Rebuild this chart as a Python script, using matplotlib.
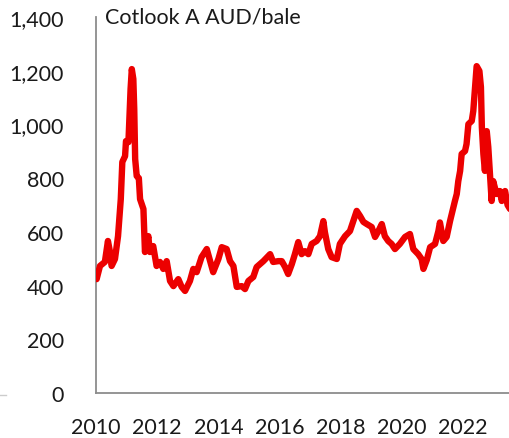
"""Cotlook A index in AUD per bale, 2010 to 2023."""

import matplotlib

matplotlib.use("Agg")
import matplotlib.pyplot as plt
from matplotlib.lines import Line2D
from matplotlib.ticker import FuncFormatter, MultipleLocator

# decimal year, AUD/bale
years = [
    2010.00, 2010.02, 2010.13, 2010.29, 2010.39, 2010.45, 2010.51, 2010.62,
    2010.72, 2010.81, 2010.86, 2010.95, 2010.98, 2011.06, 2011.09, 2011.13,
    2011.17, 2011.22, 2011.25, 2011.28, 2011.33, 2011.40, 2011.44, 2011.55,
    2011.60, 2011.71, 2011.76, 2011.87, 2011.98, 2012.09, 2012.20, 2012.31,
    2012.42, 2012.53, 2012.69, 2012.80, 2012.91, 2013.07, 2013.18, 2013.29,
    2013.45, 2013.62, 2013.73, 2013.83, 2014.00, 2014.11, 2014.27, 2014.38,
    2014.49, 2014.60, 2014.76, 2014.87, 2014.98, 2015.14, 2015.25, 2015.47,
    2015.69, 2015.79, 2015.96, 2016.07, 2016.18, 2016.28, 2016.40, 2016.50,
    2016.61, 2016.72, 2016.83, 2016.94, 2017.05, 2017.21, 2017.32, 2017.43,
    2017.48, 2017.59, 2017.70, 2017.87, 2017.97, 2018.14, 2018.30, 2018.41,
    2018.52, 2018.63, 2018.74, 2018.85, 2019.01, 2019.12, 2019.23, 2019.34,
    2019.44, 2019.55, 2019.66, 2019.77, 2019.93, 2020.10, 2020.26, 2020.37,
    2020.53, 2020.64, 2020.70, 2020.81, 2020.92, 2021.08, 2021.19, 2021.24,
    2021.35, 2021.46, 2021.57, 2021.68, 2021.73, 2021.79, 2021.84, 2021.90,
    2021.95, 2022.06, 2022.11, 2022.17, 2022.28, 2022.33, 2022.39, 2022.44,
    2022.53, 2022.58, 2022.61, 2022.66, 2022.71, 2022.77, 2022.82, 2022.88,
    2022.93, 2022.98, 2023.09, 2023.20, 2023.26, 2023.37, 2023.45, 2023.53,
]
price_aud = [
    430, 424, 473, 488, 566, 530, 473, 499,
    584, 722, 860, 882, 938, 934, 1020, 1132,
    1206, 1169, 1057, 871, 808, 800, 722, 685,
    525, 584, 525, 547, 473, 488, 462, 491,
    417, 398, 424, 395, 380, 417, 462, 450,
    506, 536, 491, 450, 499, 543, 536, 491,
    473, 395, 398, 387, 417, 432, 469, 491,
    517, 488, 491, 491, 469, 443, 480, 517,
    562, 517, 528, 517, 555, 566, 584, 640,
    599, 536, 506, 499, 555, 584, 603, 640,
    678, 659, 637, 629, 618, 581, 603, 629,
    584, 566, 555, 536, 555, 581, 592, 536,
    517, 499, 462, 495, 543, 555, 603, 635,
    566, 581, 640, 692, 715, 741, 789, 827,
    890, 901, 927, 1001, 1013, 1050, 1139, 1217,
    1199, 1139, 990, 890, 827, 975, 916, 804,
    715, 789, 741, 752, 715, 752, 700, 685,
]

series_label = "Cotlook A AUD/bale"
x_ticks = [2010, 2012, 2014, 2016, 2018, 2020, 2022]

plt.rcParams["font.family"] = ["Lato", "DejaVu Sans"]

fig = plt.figure(figsize=(5.10, 4.39), dpi=100)
ax = fig.add_axes([96 / 510, 45 / 439, 414 / 510, 376 / 439])

ax.plot(years, price_aud, color="#EC0000", linewidth=4.6,
        solid_joinstyle="round", solid_capstyle="round", zorder=3)

ax.set_xlim(2010, 2023.53)
ax.set_ylim(0, 1400)
ax.set_xticks(x_ticks)
ax.yaxis.set_major_locator(MultipleLocator(200))
ax.yaxis.set_major_formatter(FuncFormatter(lambda v, _: f"{v:,.0f}"))
ax.tick_params(axis="both", length=0, labelsize=15.5, colors="#1a1a1a")
ax.tick_params(axis="y", pad=23)
ax.tick_params(axis="x", pad=17)

for side in ("top", "right"):
    ax.spines[side].set_visible(False)
for side in ("left", "bottom"):
    ax.spines[side].set_color("#8c8c8c")
    ax.spines[side].set_linewidth(1.3)

fig.text(105 / 510, 1 - 18 / 439, series_label, ha="left", va="center",
         fontsize=15.5, color="#1a1a1a")

# stray rule from the neighbouring panel at the far left
fig.add_artist(Line2D([0, 6 / 510], [1 - 396 / 439] * 2, color="#cccccc",
                      linewidth=1.0, transform=fig.transFigure))

fig.savefig("out.png", dpi=100, facecolor="white")
